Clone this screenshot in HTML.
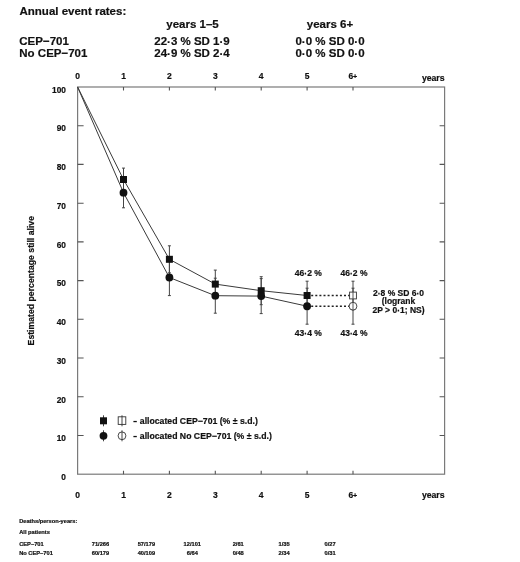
<!DOCTYPE html><html><head><meta charset="utf-8"><style>html,body{margin:0;padding:0;background:#fff;}svg{display:block;filter:grayscale(1)}text{font-family:"Liberation Sans",sans-serif;font-weight:bold;fill:#111;stroke:#111;stroke-width:0.2px}</style></head><body>
<svg width="520" height="562" viewBox="0 0 520 562">
<text x="19.5" y="15.4" font-size="11.5">Annual event rates:</text>
<text x="192.5" y="27.6" font-size="11.5" text-anchor="middle">years 1–5</text>
<text x="330" y="27.5" font-size="11.5" text-anchor="middle">years 6+</text>
<text x="19.3" y="45.2" font-size="11.5">CEP−701</text>
<text x="19.3" y="57.0" font-size="11.5">No CEP−701</text>
<text x="192" y="45.1" font-size="11.5" text-anchor="middle">22<tspan dy="1.15">·</tspan><tspan dy="-1.15">3</tspan> % SD 1<tspan dy="1.15">·</tspan><tspan dy="-1.15">9</tspan></text>
<text x="192" y="56.8" font-size="11.5" text-anchor="middle">24<tspan dy="1.15">·</tspan><tspan dy="-1.15">9</tspan> % SD 2<tspan dy="1.15">·</tspan><tspan dy="-1.15">4</tspan></text>
<text x="330" y="45.1" font-size="11.5" text-anchor="middle">0<tspan dy="1.15">·</tspan><tspan dy="-1.15">0</tspan> % SD 0<tspan dy="1.15">·</tspan><tspan dy="-1.15">0</tspan></text>
<text x="330" y="56.6" font-size="11.5" text-anchor="middle">0<tspan dy="1.15">·</tspan><tspan dy="-1.15">0</tspan> % SD 0<tspan dy="1.15">·</tspan><tspan dy="-1.15">0</tspan></text>
<rect x="77.6" y="87.0" width="367.0" height="387.2" fill="none" stroke="#7a7a7a" stroke-width="1.2"/>
<path d="M123.5 87.0v3.5M123.5 474.2v-3.5M169.4 87.0v3.5M169.4 474.2v-3.5M215.3 87.0v3.5M215.3 474.2v-3.5M261.2 87.0v3.5M261.2 474.2v-3.5M307.1 87.0v3.5M307.1 474.2v-3.5M353.0 87.0v3.5M353.0 474.2v-3.5M77.6 435.5h6M444.6 435.5h-5M77.6 396.8h6M444.6 396.8h-5M77.6 358.0h6M444.6 358.0h-5M77.6 319.3h6M444.6 319.3h-5M77.6 280.6h6M444.6 280.6h-5M77.6 241.9h6M444.6 241.9h-5M77.6 203.2h6M444.6 203.2h-5M77.6 164.4h6M444.6 164.4h-5M77.6 125.7h6M444.6 125.7h-5" stroke="#555" stroke-width="1.1" fill="none"/>
<text x="77.6" y="78.6" font-size="8.5" text-anchor="middle">0</text>
<text x="77.6" y="497.7" font-size="8.5" text-anchor="middle">0</text>
<text x="123.5" y="78.6" font-size="8.5" text-anchor="middle">1</text>
<text x="123.5" y="497.7" font-size="8.5" text-anchor="middle">1</text>
<text x="169.4" y="78.6" font-size="8.5" text-anchor="middle">2</text>
<text x="169.4" y="497.7" font-size="8.5" text-anchor="middle">2</text>
<text x="215.3" y="78.6" font-size="8.5" text-anchor="middle">3</text>
<text x="215.3" y="497.7" font-size="8.5" text-anchor="middle">3</text>
<text x="261.2" y="78.6" font-size="8.5" text-anchor="middle">4</text>
<text x="261.2" y="497.7" font-size="8.5" text-anchor="middle">4</text>
<text x="307.1" y="78.6" font-size="8.5" text-anchor="middle">5</text>
<text x="307.1" y="497.7" font-size="8.5" text-anchor="middle">5</text>
<text x="348.4" y="78.6" font-size="8.5">6<tspan font-size="7.2" dx="-0.2">+</tspan></text>
<text x="348.4" y="497.7" font-size="8.5">6<tspan font-size="7.2" dx="-0.2">+</tspan></text>
<text x="444.6" y="80.6" font-size="8.7" text-anchor="end">years</text>
<text x="444.6" y="497.7" font-size="8.7" text-anchor="end">years</text>
<text x="65.9" y="479.9" font-size="8.3" text-anchor="end">0</text>
<text x="65.9" y="441.2" font-size="8.3" text-anchor="end">10</text>
<text x="65.9" y="402.5" font-size="8.3" text-anchor="end">20</text>
<text x="65.9" y="363.7" font-size="8.3" text-anchor="end">30</text>
<text x="65.9" y="325.0" font-size="8.3" text-anchor="end">40</text>
<text x="65.9" y="286.3" font-size="8.3" text-anchor="end">50</text>
<text x="65.9" y="247.6" font-size="8.3" text-anchor="end">60</text>
<text x="65.9" y="208.9" font-size="8.3" text-anchor="end">70</text>
<text x="65.9" y="170.1" font-size="8.3" text-anchor="end">80</text>
<text x="65.9" y="131.4" font-size="8.3" text-anchor="end">90</text>
<text x="65.9" y="92.7" font-size="8.3" text-anchor="end">100</text>
<text transform="translate(33.9 345.4) rotate(-90)" font-size="8.7">Estimated percentage still alive</text>
<polyline points="77.6,87.0 123.5,179.5 169.4,259.3 215.3,284.1 261.2,290.7 307.1,295.5" fill="none" stroke="#3a3a3a" stroke-width="1"/>
<polyline points="77.6,87.0 123.5,192.7 169.4,277.5 215.3,295.7 261.2,296.1 307.1,306.2" fill="none" stroke="#3a3a3a" stroke-width="1"/>
<path d="M307.1 295.5H353.0M307.1 306.2H353.0" stroke="#222" stroke-width="1.4" stroke-dasharray="2 2.1" fill="none"/>
<path d="M123.5 168.1V190.9M122.0 168.1h3M122.0 190.9h3M123.5 177.6V207.8M122.0 177.6h3M122.0 207.8h3M169.4 245.8V272.8M167.9 245.8h3M167.9 272.8h3M169.4 259.4V295.6M167.9 259.4h3M167.9 295.6h3M215.3 270.1V298.1M213.8 270.1h3M213.8 298.1h3M215.3 278.2V313.2M213.8 278.2h3M213.8 313.2h3M261.2 276.7V304.7M259.7 276.7h3M259.7 304.7h3M261.2 278.6V313.6M259.7 278.6h3M259.7 313.6h3M307.1 281.2V309.8M305.6 281.2h3M305.6 309.8h3M307.1 288.2V324.2M305.6 288.2h3M305.6 324.2h3M353.0 281.2V309.8M351.5 281.2h3M351.5 309.8h3M353.0 288.2V324.2M351.5 288.2h3M351.5 324.2h3" stroke="#444" stroke-width="1" fill="none"/>
<rect x="120.0" y="176.0" width="7" height="7" fill="#111"/>
<circle cx="123.5" cy="192.7" r="3.9" fill="#111"/>
<rect x="165.9" y="255.8" width="7" height="7" fill="#111"/>
<circle cx="169.4" cy="277.5" r="3.9" fill="#111"/>
<rect x="211.8" y="280.6" width="7" height="7" fill="#111"/>
<circle cx="215.3" cy="295.7" r="3.9" fill="#111"/>
<rect x="257.7" y="287.2" width="7" height="7" fill="#111"/>
<circle cx="261.2" cy="296.1" r="3.9" fill="#111"/>
<rect x="303.6" y="292.0" width="7" height="7" fill="#111"/>
<circle cx="307.1" cy="306.2" r="3.9" fill="#111"/>
<rect x="349.6" y="292.1" width="6.8" height="6.8" fill="#fff" stroke="#333" stroke-width="0.9"/>
<circle cx="353.0" cy="306.2" r="3.9" fill="#fff" stroke="#333" stroke-width="0.9"/>
<path d="M353.0 292.1V298.9M353.0 302.3V310.1" stroke="#444" stroke-width="0.9"/>
<text x="308.3" y="276" font-size="8.5" text-anchor="middle">46<tspan dy="0.85">·</tspan><tspan dy="-0.85">2</tspan> %</text>
<text x="308.3" y="335.8" font-size="8.5" text-anchor="middle">43<tspan dy="0.85">·</tspan><tspan dy="-0.85">4</tspan> %</text>
<text x="354.0" y="276" font-size="8.5" text-anchor="middle">46<tspan dy="0.85">·</tspan><tspan dy="-0.85">2</tspan> %</text>
<text x="354.0" y="335.8" font-size="8.5" text-anchor="middle">43<tspan dy="0.85">·</tspan><tspan dy="-0.85">4</tspan> %</text>
<text x="398.5" y="295.8" font-size="8.5" text-anchor="middle">2<tspan dy="0.85">·</tspan><tspan dy="-0.85">8</tspan> % SD 6<tspan dy="0.85">·</tspan><tspan dy="-0.85">0</tspan></text>
<text x="398.5" y="304.3" font-size="8.5" text-anchor="middle">(logrank</text>
<text x="398.5" y="312.8" font-size="8.5" text-anchor="middle">2P &gt; 0<tspan dy="0.85">·</tspan><tspan dy="-0.85">1</tspan>; NS)</text>
<path d="M103.5 415.3V426.3M122 415.3V426.3" stroke="#444" stroke-width="1"/>
<rect x="100.0" y="417.3" width="7" height="7" fill="#111"/>
<rect x="118.2" y="416.8" width="7.6" height="7.6" fill="none" stroke="#333" stroke-width="0.9"/>
<rect x="133.4" y="420.9" width="3.4" height="1.3" fill="#111"/>
<text x="139.8" y="423.7" font-size="8.7">allocated CEP−701 (% ± s.d.)</text>
<path d="M103.5 430.3V441.3M122 430.3V441.3" stroke="#444" stroke-width="1"/>
<circle cx="103.5" cy="435.8" r="3.9" fill="#111"/>
<circle cx="122" cy="435.8" r="3.9" fill="none" stroke="#333" stroke-width="0.9"/>
<rect x="133.4" y="435.9" width="3.4" height="1.3" fill="#111"/>
<text x="139.8" y="438.7" font-size="8.7">allocated No CEP−701 (% ± s.d.)</text>
<text x="19.2" y="522.5" font-size="5.7">Deaths/person-years:</text>
<text x="19.2" y="534.3" font-size="5.7">All patients</text>
<text x="19.2" y="545.8" font-size="5.7">CEP−701</text>
<text x="19.2" y="554.6" font-size="5.7">No CEP−701</text>
<text x="100.5" y="545.8" font-size="5.7" text-anchor="middle">71/266</text>
<text x="100.5" y="554.6" font-size="5.7" text-anchor="middle">60/179</text>
<text x="146.4" y="545.8" font-size="5.7" text-anchor="middle">57/179</text>
<text x="146.4" y="554.6" font-size="5.7" text-anchor="middle">40/109</text>
<text x="192.3" y="545.8" font-size="5.7" text-anchor="middle">12/101</text>
<text x="192.3" y="554.6" font-size="5.7" text-anchor="middle">6/64</text>
<text x="238.2" y="545.8" font-size="5.7" text-anchor="middle">2/61</text>
<text x="238.2" y="554.6" font-size="5.7" text-anchor="middle">0/48</text>
<text x="284.1" y="545.8" font-size="5.7" text-anchor="middle">1/35</text>
<text x="284.1" y="554.6" font-size="5.7" text-anchor="middle">2/34</text>
<text x="330.1" y="545.8" font-size="5.7" text-anchor="middle">0/27</text>
<text x="330.1" y="554.6" font-size="5.7" text-anchor="middle">0/31</text>
</svg></body></html>
